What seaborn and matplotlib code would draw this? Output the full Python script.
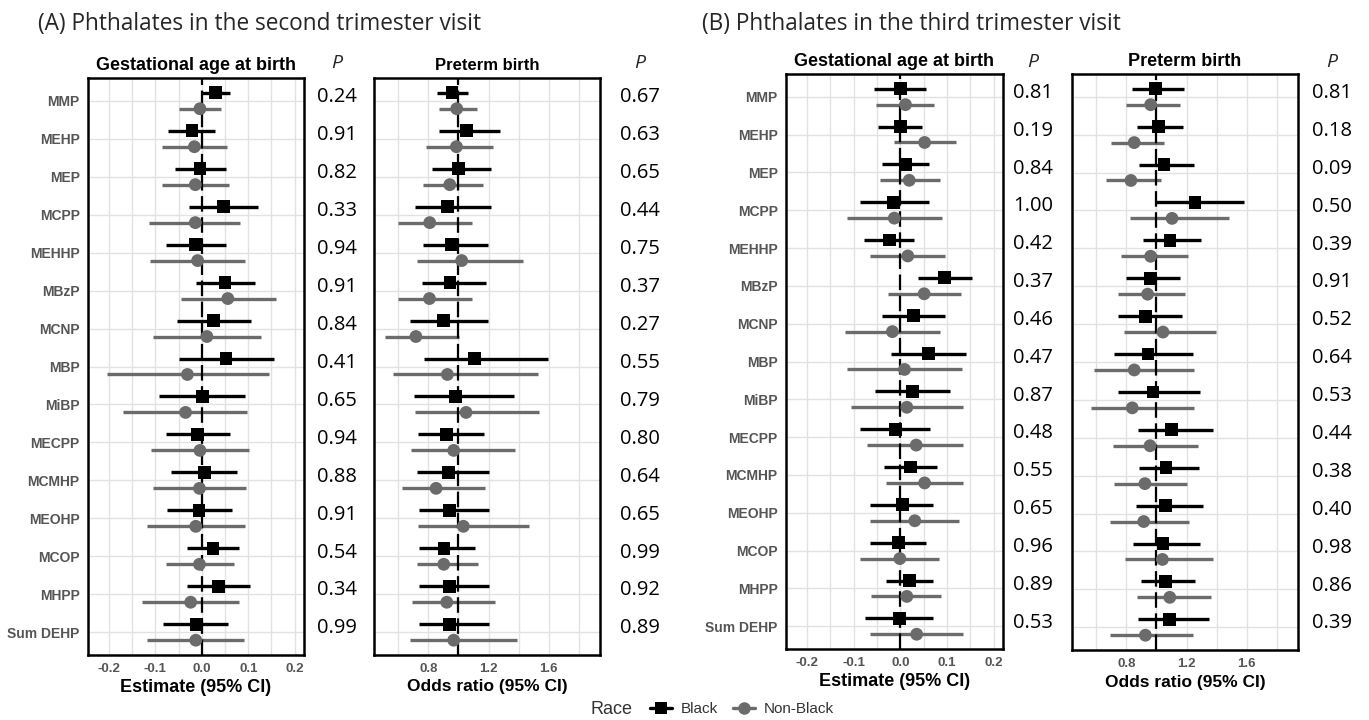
import pandas as pd
import matplotlib.pyplot as plt
from matplotlib.lines import Line2D
from matplotlib.ticker import MultipleLocator, FormatStrFormatter
from matplotlib.transforms import blended_transform_factory
import seaborn as sns

# phthalate metabolites, top to bottom
chemicals = ["MMP", "MEHP", "MEP", "MCPP", "MEHHP", "MBzP", "MCNP", "MBP",
             "MiBP", "MECPP", "MCMHP", "MEOHP", "MCOP", "MHPP", "Sum DEHP"]

# (estimate, lower, upper)
# (A) second trimester - gestational age at birth
a_gest_black = [(0.030, 0.000, 0.061), (-0.021, -0.073, 0.029), (-0.004, -0.058, 0.052),
                (0.046, -0.028, 0.120), (-0.013, -0.078, 0.053), (0.050, -0.013, 0.114),
                (0.026, -0.054, 0.106), (0.052, -0.049, 0.155), (0.001, -0.092, 0.094),
                (-0.009, -0.078, 0.061), (0.006, -0.066, 0.076), (-0.006, -0.074, 0.064),
                (0.024, -0.031, 0.079), (0.036, -0.031, 0.104), (-0.011, -0.083, 0.056)]
a_gest_nonblack = [(-0.004, -0.049, 0.041), (-0.016, -0.086, 0.054), (-0.014, -0.086, 0.059),
                   (-0.014, -0.114, 0.082), (-0.009, -0.111, 0.094), (0.056, -0.044, 0.159),
                   (0.011, -0.104, 0.127), (-0.031, -0.205, 0.144), (-0.035, -0.169, 0.097),
                   (-0.004, -0.110, 0.101), (-0.005, -0.104, 0.096), (-0.013, -0.118, 0.093),
                   (-0.005, -0.078, 0.069), (-0.024, -0.129, 0.081), (-0.013, -0.118, 0.091)]
# (A) second trimester - preterm birth
a_pre_black = [(0.958, 0.861, 1.062), (1.053, 0.870, 1.273), (1.002, 0.826, 1.216),
               (0.929, 0.713, 1.216), (0.954, 0.766, 1.198), (0.945, 0.760, 1.181),
               (0.899, 0.680, 1.194), (1.106, 0.769, 1.597), (0.982, 0.705, 1.368),
               (0.923, 0.731, 1.167), (0.934, 0.725, 1.205), (0.943, 0.740, 1.205),
               (0.905, 0.740, 1.112), (0.943, 0.740, 1.203), (0.943, 0.740, 1.205)]
a_pre_nonblack = [(0.989, 0.870, 1.121), (0.987, 0.788, 1.229), (0.943, 0.764, 1.161),
                  (0.810, 0.597, 1.090), (1.022, 0.725, 1.428), (0.808, 0.597, 1.090),
                  (0.718, 0.513, 1.007), (0.927, 0.566, 1.531), (1.051, 0.713, 1.538),
                  (0.969, 0.685, 1.379), (0.852, 0.623, 1.179), (1.033, 0.731, 1.467),
                  (0.903, 0.727, 1.128), (0.923, 0.691, 1.240), (0.969, 0.680, 1.388)]
# (B) third trimester - gestational age at birth
b_gest_black = [(0.000, -0.056, 0.055), (0.000, -0.048, 0.046), (0.011, -0.040, 0.062),
                (-0.014, -0.087, 0.061), (-0.024, -0.078, 0.030), (0.095, 0.037, 0.153),
                (0.029, -0.040, 0.096), (0.061, -0.019, 0.141), (0.026, -0.054, 0.106),
                (-0.011, -0.086, 0.063), (0.021, -0.036, 0.079), (0.004, -0.064, 0.071),
                (-0.004, -0.064, 0.054), (0.019, -0.031, 0.069), (-0.002, -0.076, 0.071)]
b_gest_nonblack = [(0.011, -0.052, 0.073), (0.052, -0.013, 0.119), (0.019, -0.044, 0.084),
                   (-0.013, -0.115, 0.089), (0.016, -0.064, 0.096), (0.051, -0.026, 0.129),
                   (-0.017, -0.118, 0.084), (0.009, -0.115, 0.132), (0.014, -0.106, 0.135),
                   (0.034, -0.071, 0.135), (0.052, -0.031, 0.135), (0.031, -0.065, 0.125),
                   (-0.001, -0.086, 0.083), (0.014, -0.062, 0.087), (0.035, -0.064, 0.135)]
# (B) third trimester - preterm birth
b_pre_black = [(0.996, 0.836, 1.184), (1.013, 0.873, 1.180), (1.051, 0.884, 1.247),
               (1.256, 1.000, 1.584), (1.091, 0.911, 1.296), (0.962, 0.796, 1.156),
               (0.929, 0.742, 1.167), (0.944, 0.722, 1.242), (0.978, 0.742, 1.287),
               (1.102, 0.880, 1.373), (1.064, 0.884, 1.284), (1.060, 0.862, 1.307),
               (1.044, 0.847, 1.291), (1.062, 0.900, 1.256), (1.087, 0.876, 1.349)]
b_pre_nonblack = [(0.962, 0.800, 1.158), (0.853, 0.696, 1.051), (0.831, 0.664, 1.031),
                  (1.104, 0.827, 1.484), (0.962, 0.764, 1.211), (0.942, 0.742, 1.191),
                  (1.044, 0.782, 1.396), (0.853, 0.584, 1.247), (0.840, 0.564, 1.251),
                  (0.958, 0.713, 1.278), (0.924, 0.718, 1.200), (0.916, 0.689, 1.218),
                  (1.040, 0.791, 1.373), (1.089, 0.871, 1.360), (0.927, 0.691, 1.240)]

# interaction P values
p_a_gest = [0.24, 0.91, 0.82, 0.33, 0.94, 0.91, 0.84, 0.41, 0.65, 0.94, 0.88, 0.91, 0.54, 0.34, 0.99]
p_a_pre = [0.67, 0.63, 0.65, 0.44, 0.75, 0.37, 0.27, 0.55, 0.79, 0.80, 0.64, 0.65, 0.99, 0.92, 0.89]
p_b_gest = [0.81, 0.19, 0.84, 1.00, 0.42, 0.37, 0.46, 0.47, 0.87, 0.48, 0.55, 0.65, 0.96, 0.89, 0.53]
p_b_pre = [0.81, 0.18, 0.09, 0.50, 0.39, 0.91, 0.52, 0.64, 0.53, 0.44, 0.38, 0.40, 0.98, 0.86, 0.39]

races = ["Black", "Non-Black"]
palette = {"Black": "#000000", "Non-Black": "#6b6b6b"}
markers = {"Black": "s", "Non-Black": "o"}

sns.set_theme(style="white")
plt.rcParams["font.family"] = ["Liberation Sans", "DejaVu Sans"]

W, H = 1369, 720
fig = plt.figure(figsize=(W / 100, H / 100), dpi=100)


def px_axes(left, right, top, bottom):
    return fig.add_axes([left / W, 1 - bottom / H, (right - left) / W, (bottom - top) / H])


def forest(ax, black, nonblack, ref, xlim, major, minor, fmt, title, title_size, xlabel, show_labels):
    rows = []
    for race, data, off in [("Black", black, -0.21), ("Non-Black", nonblack, 0.21)]:
        for i, (est, lo, hi) in enumerate(data):
            rows.append(dict(chem=chemicals[i], race=race, y=i + off, est=est, lo=lo, hi=hi))
    df = pd.DataFrame(rows)

    ax.hlines(df["y"], df["lo"], df["hi"], colors=df["race"].map(palette), lw=2.4, zorder=3)
    ax.axvline(ref, color="black", lw=1.6, dashes=(7, 2.5), zorder=3.5)
    sns.scatterplot(data=df, x="est", y="y", hue="race", style="race", palette=palette,
                    markers=markers, s=85, linewidth=0, legend=False, ax=ax, zorder=4)

    ax.set_xlim(*xlim)
    ax.set_ylim(14.6, -0.6)
    ax.xaxis.set_major_locator(MultipleLocator(major))
    ax.xaxis.set_minor_locator(MultipleLocator(minor))
    ax.xaxis.set_major_formatter(FormatStrFormatter(fmt))
    ax.set_yticks(range(len(chemicals)))
    ax.set_yticklabels(chemicals if show_labels else [])
    ax.grid(which="major", color="#e2e2e2", lw=1.0, zorder=0)
    ax.grid(which="minor", axis="x", color="#e2e2e2", lw=1.0, zorder=0)
    ax.set_axisbelow(True)
    ax.tick_params(axis="both", which="major", length=4, width=1, color="#444444",
                   labelcolor="#555555", labelsize=10, pad=2)
    ax.tick_params(axis="x", labelsize=9.5)
    ax.tick_params(which="minor", length=0)
    for lab in ax.get_xticklabels() + ax.get_yticklabels():
        lab.set_fontweight("bold")
    for s in ax.spines.values():
        s.set_color("black")
        s.set_linewidth(1.8)
    ax.set_xlabel(xlabel, fontsize=13, fontweight="bold", color="black", labelpad=3)
    ax.set_ylabel("")
    ax.set_title(title, fontsize=title_size, fontweight="bold", color="black", pad=6)


def pcol(ax, xpx, values, ytop):
    tr = blended_transform_factory(fig.transFigure, ax.transData)
    for i, v in enumerate(values):
        ax.text(xpx / W, i - 0.1, f"{v:.2f}", transform=tr, ha="center", va="center",
                fontsize=14.5, family="Open Sans", color="black", clip_on=False)
    fig.text(xpx / W, 1 - ytop / H, "P", ha="center", va="center", fontsize=14,
             family="Open Sans", style="italic")


gest_kw = dict(ref=0, xlim=(-0.245, 0.22), major=0.1, minor=0.05, fmt="%.1f",
               xlabel="Estimate (95% CI)")
pre_kw = dict(ref=1, xlim=(0.44, 1.94), major=0.4, minor=0.2, fmt="%.1f",
              xlabel="Odds ratio (95% CI)")

ax1 = px_axes(88, 304, 78, 655)
forest(ax1, a_gest_black, a_gest_nonblack, title="Gestational age at birth", title_size=13,
       show_labels=True, **gest_kw)
ax2 = px_axes(374, 600, 78, 655)
forest(ax2, a_pre_black, a_pre_nonblack, title="Preterm birth", title_size=12,
       show_labels=False, **pre_kw)
ax3 = px_axes(786, 1003, 74, 649)
forest(ax3, b_gest_black, b_gest_nonblack, title="Gestational age at birth", title_size=13,
       show_labels=True, **gest_kw)
ax4 = px_axes(1072, 1298, 74, 650)
forest(ax4, b_pre_black, b_pre_nonblack, title="Preterm birth", title_size=13,
       show_labels=False, **pre_kw)
for ax in (ax2, ax4):
    ax.xaxis.label.set_fontsize(12.5)

pcol(ax1, 337, p_a_gest, 63)
pcol(ax2, 640, p_a_pre, 63)
pcol(ax3, 1033, p_b_gest, 62)
pcol(ax4, 1332, p_b_pre, 62)

fig.text(38 / W, 1 - 24 / H, "(A) Phthalates in the second trimester visit", ha="left", va="center",
         fontsize=16.3, family="Open Sans")
fig.text(702 / W, 1 - 24 / H, "(B) Phthalates in the third trimester visit", ha="left", va="center",
         fontsize=16.3, family="Open Sans")

# legend
fig.text(590 / W, 1 - 709 / H, "Race", ha="left", va="center", fontsize=13, color="#333333")
handles = [Line2D([0], [0], color=palette[r], lw=2.4, marker=markers[r], markersize=9,
                  markeredgewidth=0) for r in races]
leg = fig.legend(handles, races, loc="center", bbox_to_anchor=(742 / W, 1 - 709 / H), ncol=2,
                 frameon=False, handlelength=1.4, handletextpad=0.6, columnspacing=1.0,
                 fontsize=11)
for t in leg.get_texts():
    t.set_color("#333333")

fig.savefig("out.png", dpi=100)
